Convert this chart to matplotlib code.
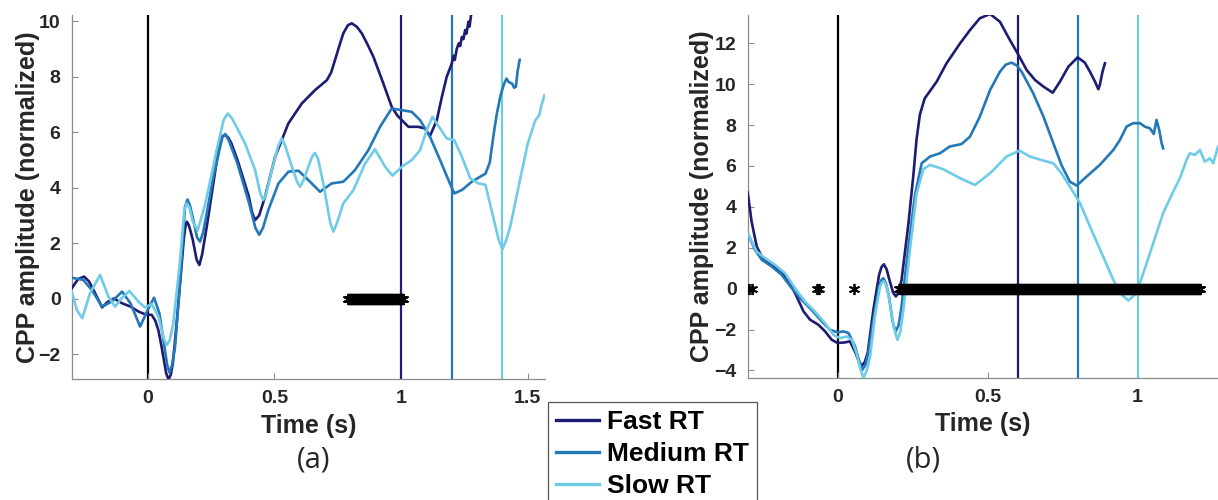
import numpy as np
import matplotlib.pyplot as plt
from matplotlib.lines import Line2D

# ---- panel (a) data ----
fast_a_t = [-0.300, -0.275, -0.251, -0.232, -0.214, -0.180, -0.158, -0.134, -0.118, -0.101,
            -0.068, -0.036, -0.010, 0.016, 0.030, 0.042, 0.054, 0.064, 0.073, 0.082,
            0.091, 0.099, 0.106, 0.114, 0.122, 0.130, 0.142, 0.148, 0.154, 0.162,
            0.170, 0.178, 0.193, 0.204, 0.215, 0.233, 0.259, 0.279, 0.295, 0.306,
            0.318, 0.330, 0.354, 0.378, 0.399, 0.412, 0.424, 0.440, 0.463, 0.503,
            0.555, 0.608, 0.660, 0.707, 0.724, 0.739, 0.756, 0.772, 0.790, 0.805,
            0.825, 0.845, 0.868, 0.891, 0.930, 0.963, 0.985, 1.003, 1.029, 1.068,
            1.095, 1.114, 1.141, 1.161, 1.180, 1.200, 1.207, 1.212, 1.220, 1.228,
            1.233, 1.240, 1.246, 1.253, 1.258, 1.266, 1.270, 1.276]
fast_a_v = [0.37, 0.70, 0.79, 0.62, 0.31, -0.32, -0.12, 0.00, -0.08, -0.17,
            -0.29, -0.47, -0.57, -0.59, -0.80, -1.14, -1.70, -2.22, -2.70, -2.91,
            -2.75, -2.34, -1.70, -0.90, -0.05, 0.79, 2.10, 2.55, 2.77, 2.65,
            2.40, 2.11, 1.40, 1.21, 1.60, 2.59, 4.15, 5.35, 5.85, 5.90,
            5.80, 5.60, 5.00, 4.30, 3.68, 3.10, 2.83, 3.00, 3.67, 5.11,
            6.31, 7.03, 7.51, 7.87, 8.15, 8.59, 9.10, 9.56, 9.85, 9.92,
            9.80, 9.56, 9.15, 8.71, 7.75, 6.91, 6.60, 6.43, 6.19, 6.19,
            6.13, 5.86, 6.43, 7.27, 7.99, 8.47, 8.75, 8.60, 9.01, 9.20,
            9.10, 9.43, 9.35, 9.68, 9.55, 9.98, 9.80, 10.2]

med_a_t = [-0.300, -0.254, -0.221, -0.180, -0.142, -0.101, -0.068, -0.030, 0.000, 0.025,
           0.046, 0.068, 0.077, 0.086, 0.096, 0.108, 0.130, 0.147, 0.157, 0.167,
           0.180, 0.195, 0.207, 0.219, 0.233, 0.259, 0.283, 0.294, 0.306, 0.320,
           0.354, 0.400, 0.425, 0.440, 0.455, 0.476, 0.516, 0.555, 0.595, 0.634,
           0.680, 0.726, 0.772, 0.818, 0.871, 0.917, 0.963, 1.003, 1.042, 1.075,
           1.114, 1.154, 1.187, 1.210, 1.240, 1.279, 1.312, 1.333, 1.350, 1.365,
           1.378, 1.392, 1.405, 1.416, 1.425, 1.438, 1.446, 1.453, 1.460, 1.468]
med_a_v = [0.75, 0.67, 0.31, -0.29, -0.11, 0.25, -0.17, -1.01, -0.41, 0.03,
           -0.53, -1.86, -2.40, -2.67, -2.40, -1.74, 0.90, 3.30, 3.57, 3.35,
           2.83, 2.20, 2.05, 2.40, 3.07, 4.39, 5.35, 5.80, 5.93, 5.70,
           4.87, 3.44, 2.55, 2.30, 2.55, 3.19, 4.15, 4.57, 4.61, 4.27,
           3.85, 4.15, 4.21, 4.63, 5.35, 6.19, 6.85, 6.79, 6.73, 6.43,
           5.83, 4.99, 4.27, 3.79, 3.91, 4.21, 4.39, 4.50, 4.90, 5.90,
           6.67, 7.30, 7.70, 7.93, 7.80, 7.75, 7.60, 7.63, 8.20, 8.60]

slow_a_t = [-0.300, -0.280, -0.258, -0.228, -0.188, -0.155, -0.129, -0.103, -0.072, -0.037,
            -0.011, 0.016, 0.042, 0.064, 0.075, 0.087, 0.101, 0.128, 0.144, 0.154,
            0.164, 0.178, 0.197, 0.226, 0.253, 0.272, 0.300, 0.316, 0.332, 0.354,
            0.384, 0.424, 0.444, 0.456, 0.468, 0.490, 0.515, 0.529, 0.543, 0.569,
            0.590, 0.601, 0.614, 0.634, 0.648, 0.660, 0.672, 0.693, 0.720, 0.733,
            0.746, 0.772, 0.812, 0.858, 0.897, 0.937, 0.966, 1.003, 1.042, 1.075,
            1.101, 1.124, 1.154, 1.180, 1.210, 1.240, 1.273, 1.305, 1.333, 1.363,
            1.385, 1.400, 1.415, 1.431, 1.468, 1.500, 1.530, 1.545, 1.552, 1.566]
slow_a_v = [0.25, -0.41, -0.71, 0.19, 0.85, 0.07, -0.29, 0.01, 0.27, -0.11,
            -0.32, -0.20, -0.65, -1.45, -1.68, -1.50, -0.90, 1.39, 3.15, 3.43,
            3.30, 2.77, 2.45, 3.37, 4.51, 5.35, 6.45, 6.67, 6.50, 6.13,
            5.59, 4.63, 3.80, 3.55, 3.80, 4.63, 5.50, 5.77, 5.50, 4.75,
            4.20, 4.03, 4.25, 4.75, 5.10, 5.25, 5.05, 4.15, 2.75, 2.41,
            2.70, 3.43, 3.91, 4.87, 5.38, 4.75, 4.43, 4.75, 4.99, 5.35,
            6.07, 6.55, 6.13, 5.77, 5.71, 5.11, 4.33, 4.15, 4.10, 2.96,
            2.12, 1.78, 2.10, 2.60, 4.22, 5.59, 6.43, 6.60, 6.90, 7.33]

# ---- panel (b) data ----
fast_b_t = [-0.300, -0.287, -0.270, -0.248, -0.220, -0.187, -0.159, -0.137, -0.114, -0.092,
            -0.064, -0.042, -0.020, 0.000, 0.024, 0.041, 0.060, 0.070, 0.080, 0.090,
            0.100, 0.119, 0.138, 0.146, 0.154, 0.163, 0.174, 0.185, 0.194, 0.203,
            0.213, 0.236, 0.252, 0.263, 0.274, 0.290, 0.330, 0.363, 0.408, 0.441,
            0.474, 0.508, 0.541, 0.574, 0.600, 0.630, 0.658, 0.686, 0.717, 0.741,
            0.769, 0.800, 0.824, 0.841, 0.858, 0.869, 0.874, 0.883, 0.891]
fast_b_v = [4.70, 3.28, 2.06, 1.41, 1.16, 0.84, 0.27, -0.38, -1.11, -1.52,
            -1.77, -2.09, -2.50, -2.66, -2.63, -2.58, -3.15, -3.55, -3.77, -3.60,
            -3.15, -1.04, 0.67, 1.05, 1.19, 0.95, 0.35, -0.20, -0.38, -0.20,
            0.43, 3.20, 5.50, 7.30, 8.50, 9.30, 10.12, 11.02, 11.99, 12.64,
            13.22, 13.43, 13.05, 12.16, 11.50, 10.69, 10.20, 9.88, 9.58, 10.12,
            10.85, 11.31, 11.05, 10.61, 10.12, 9.75, 9.96, 10.61, 11.02]

med_b_t = [-0.300, -0.276, -0.253, -0.220, -0.187, -0.153, -0.120, -0.087, -0.053, -0.026,
           0.000, 0.019, 0.036, 0.058, 0.071, 0.082, 0.092, 0.102, 0.121, 0.138,
           0.145, 0.152, 0.160, 0.171, 0.183, 0.193, 0.203, 0.213, 0.236, 0.258,
           0.280, 0.308, 0.341, 0.374, 0.413, 0.441, 0.474, 0.508, 0.541, 0.560,
           0.580, 0.598, 0.613, 0.652, 0.686, 0.719, 0.746, 0.774, 0.797, 0.830,
           0.874, 0.919, 0.941, 0.963, 0.985, 1.008, 1.024, 1.041, 1.054, 1.063,
           1.072, 1.080, 1.085]
med_b_v = [2.71, 1.90, 1.41, 1.08, 0.68, 0.02, -0.55, -1.04, -1.60, -2.01,
           -2.14, -2.09, -2.17, -2.83, -3.50, -3.97, -3.75, -3.15, -1.36, 0.10,
           0.40, 0.51, 0.30, -0.38, -1.60, -2.09, -1.80, -0.87, 2.06, 4.60,
           6.13, 6.46, 6.62, 6.95, 7.07, 7.43, 8.41, 9.71, 10.61, 10.95,
           11.05, 10.90, 10.61, 9.55, 8.41, 7.11, 6.05, 5.23, 5.04, 5.48,
           6.05, 6.78, 7.27, 7.92, 8.09, 8.09, 7.92, 7.84, 7.56, 8.25,
           7.76, 7.11, 6.86]

slow_b_t = [-0.300, -0.270, -0.242, -0.209, -0.176, -0.142, -0.109, -0.076, -0.042, -0.014,
            0.008, 0.030, 0.047, 0.063, 0.075, 0.086, 0.097, 0.108, 0.124, 0.141,
            0.148, 0.156, 0.165, 0.174, 0.188, 0.199, 0.209, 0.219, 0.241, 0.263,
            0.286, 0.308, 0.352, 0.408, 0.458, 0.508, 0.563, 0.606, 0.641, 0.686,
            0.719, 0.746, 0.774, 0.808, 0.841, 0.885, 0.919, 0.941, 0.969, 0.996,
            1.019, 1.052, 1.085, 1.119, 1.141, 1.163, 1.174, 1.191, 1.208, 1.224,
            1.241, 1.252, 1.268]
slow_b_v = [2.71, 1.81, 1.49, 1.16, 0.76, 0.02, -0.63, -1.12, -1.69, -2.26,
            -2.42, -2.34, -2.50, -3.15, -3.90, -4.37, -4.00, -3.32, -1.36, 0.10,
            0.32, 0.35, 0.00, -0.71, -1.95, -2.50, -2.10, -1.04, 1.90, 4.66,
            5.85, 6.05, 5.84, 5.40, 5.07, 5.64, 6.46, 6.75, 6.46, 6.26,
            6.13, 5.64, 4.99, 4.18, 3.04, 1.57, 0.43, -0.22, -0.58, -0.22,
            0.76, 2.22, 3.69, 4.75, 5.40, 6.29, 6.62, 6.54, 6.78, 6.21,
            6.37, 6.13, 6.94]

# RT markers (vertical lines) and significant time windows
rt_a = [1.0, 1.2, 1.4]
rt_b = [0.6, 0.8, 1.0]
sig_a = [(0.79, 1.01)]
sig_b = [(-0.295, -0.295), (-0.285, -0.285), (-0.070, -0.070), (-0.062, -0.062),
         (0.056, 0.056), (0.205, 1.21)]

labels = ['Fast RT', 'Medium RT', 'Slow RT']
colors = ['#1c1c72', '#2278b8', '#6fcbe6']

plt.rcParams['font.family'] = 'Liberation Sans'
plt.rcParams['font.weight'] = 'bold'

fig = plt.figure(figsize=(12.18, 5.0), dpi=100)
ax_a = fig.add_axes([71.7 / 1218, 1 - 379 / 500, 473.3 / 1218, 364 / 500])
ax_b = fig.add_axes([747.7 / 1218, 1 - 378 / 500, 470.3 / 1218, 363 / 500])


def sig_times(windows):
    pts = []
    for lo, hi in windows:
        if hi > lo:
            pts.extend(np.arange(lo, hi, 0.002))
        else:
            pts.append(lo)
    return np.array(pts)


def draw(ax, series, rts, sig, xlim, ylim, yticks, xticks, xtlabels):
    ax.axvline(0, color='black', lw=1.6, zorder=1)
    for (t, v), c in zip(series, colors):
        ax.plot(t, v, color=c, lw=1.9, zorder=3, solid_joinstyle='round')
    for r, c in zip(rts, colors):
        ax.axvline(r, color=c, lw=1.6, zorder=2)
    st = sig_times(sig)
    ax.plot(st, np.zeros_like(st), linestyle='none', marker=(6, 2, 0),
            markersize=8, color='black', mew=1.3, zorder=4)
    ax.set_xlim(*xlim)
    ax.set_ylim(*ylim)
    ax.set_yticks(yticks)
    ax.set_xticks(xticks)
    ax.set_xticklabels(xtlabels)
    for s in ['top', 'right']:
        ax.spines[s].set_visible(False)
    for s in ['left', 'bottom']:
        ax.spines[s].set_color('#8c8c8c')
        ax.spines[s].set_linewidth(0.9)
    ax.tick_params(direction='in', length=4, color='#8c8c8c', labelsize=14,
                   labelcolor='#262626', pad=8)
    ax.set_xlabel('Time (s)', fontsize=18, fontweight='bold', color='#262626')
    ax.set_ylabel('CPP amplitude (normalized)', fontsize=18, fontweight='bold',
                  color='#262626')


draw(ax_a, [(fast_a_t, fast_a_v), (med_a_t, med_a_v), (slow_a_t, slow_a_v)],
     rt_a, sig_a, (-0.300, 1.568), (-2.90, 10.22), [-2, 0, 2, 4, 6, 8, 10],
     [0, 0.5, 1, 1.5], ['0', '0.5', '1', '1.5'])
draw(ax_b, [(fast_b_t, fast_b_v), (med_b_t, med_b_v), (slow_b_t, slow_b_v)],
     rt_b, sig_b, (-0.300, 1.268), (-4.37, 13.38), [-4, -2, 0, 2, 4, 6, 8, 10, 12],
     [0, 0.5, 1], ['0', '0.5', '1'])

ax_a.xaxis.set_label_coords(0.5, -0.095)
ax_b.xaxis.set_label_coords(0.5, -0.095)
ax_a.yaxis.set_label_coords(-0.068, 0.5)
ax_b.yaxis.set_label_coords(-0.072, 0.5)

fig.text(314 / 1218, 1 - 460 / 500, '(a)', fontsize=21, fontweight='normal',
         family='Open Sans', ha='center', va='center', color='#262626')
fig.text(923 / 1218, 1 - 460 / 500, '(b)', fontsize=21, fontweight='normal',
         family='Open Sans', ha='center', va='center', color='#262626')

handles = [Line2D([], [], color=c, lw=2.4) for c in colors]
leg = fig.legend(handles, labels, loc='upper left',
                 bbox_to_anchor=(548 / 1218, 1 - 402 / 500),
                 fontsize=19, frameon=True, fancybox=False, framealpha=1,
                 edgecolor='#555555', handlelength=1.65, handletextpad=0.3,
                 labelspacing=0.3, borderpad=0.3, borderaxespad=0)
leg.get_frame().set_linewidth(0.9)
for txt in leg.get_texts():
    txt.set_fontweight('bold')

fig.savefig('out.png', dpi=100)
